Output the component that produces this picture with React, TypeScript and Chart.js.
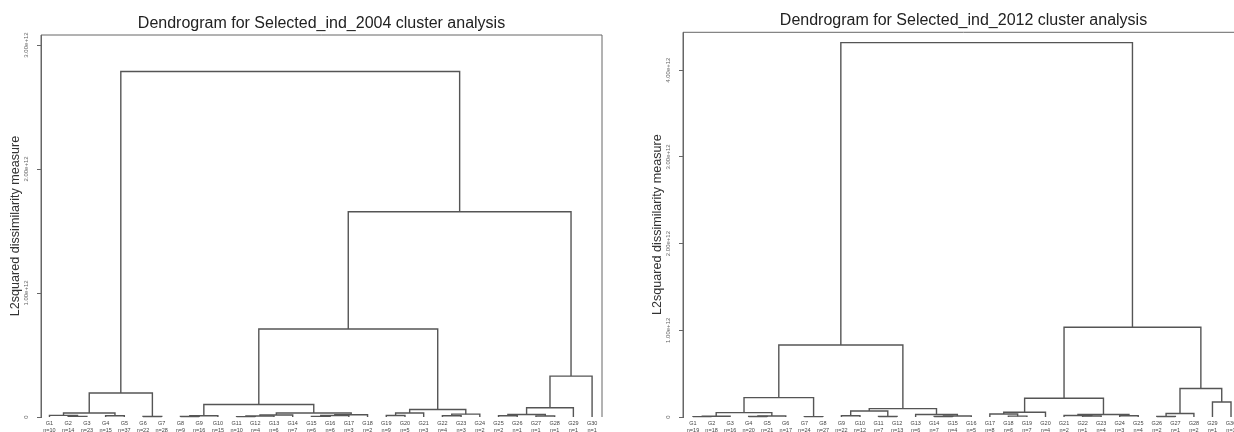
import React, { useEffect, useRef } from 'react';
import { Chart, registerables } from 'chart.js';

Chart.register(...registerables);

const FONT = "'Liberation Sans', Arial, sans-serif";

// ---------- 2004 ----------
const leaves2004 = ['G1','G2','G3','G4','G5','G6','G7','G8','G9','G10','G11','G12','G13','G14','G15','G16','G17','G18','G19','G20','G21','G22','G23','G24','G25','G26','G27','G28','G29','G30'];
const counts2004 = [10,14,23,15,37,22,28,9,16,15,10,4,6,7,6,6,3,2,9,5,3,4,3,2,2,1,1,1,1,1];
// merge table: negative = leaf (1-based), positive = earlier merge (1-based)
const mergeLeft2004  = [-2, -1, -4, 2, -6, 4, -8, 7, -11, 9, 10, -15, 12, 13, 11, 8, -19, 17, -22, 19, 18, 16, -25, -27, 23, 25, 26, 22, 6];
const mergeRight2004 = [-3, 1, -5, 3, -7, 5, -9, -10, -12, -13, -14, -16, -17, -18, 14, 15, -20, -21, -23, -24, 20, 21, -26, -28, 24, -29, -30, 27, 28];
const mergeHeight2004 = [0.005e12, 0.013e12, 0.010e12, 0.032e12, 0.004e12, 0.194e12, 0.004e12, 0.010e12, 0.003e12, 0.008e12, 0.016e12, 0.005e12, 0.012e12, 0.018e12, 0.032e12, 0.101e12, 0.012e12, 0.032e12, 0.010e12, 0.023e12, 0.061e12, 0.710e12, 0.010e12, 0.008e12, 0.020e12, 0.075e12, 0.330e12, 1.656e12, 2.787e12];
const yTicks2004 = [0, 1e12, 2e12, 3e12];

// ---------- 2012 ----------
const leaves2012 = ['G1','G2','G3','G4','G5','G6','G7','G8','G9','G10','G11','G12','G13','G14','G15','G16','G17','G18','G19','G20','G21','G22','G23','G24','G25','G26','G27','G28','G29','G30'];
const counts2012 = [19,18,16,20,21,17,24,27,22,12,7,13,6,7,4,5,8,6,7,4,2,1,4,3,4,2,1,2,1,1];
const mergeLeft2012  = [-1, 1, -4, 3, 2, -7, 5, -9, -11, 8, -14, 11, -13, 10, 7, -18, -17, 17, -22, -21, -24, 20, 18, -26, 24, -29, 25, 23, 15];
const mergeRight2012 = [-2, -3, -5, -6, 4, -8, 6, -10, -12, 9, -15, -16, 12, 13, 14, -19, 16, -20, -23, 19, -25, 21, 22, -27, -28, -30, 26, 27, 28];
const mergeHeight2012 = [0.004e12, 0.008e12, 0.006e12, 0.012e12, 0.050e12, 0.004e12, 0.224e12, 0.015e12, 0.005e12, 0.069e12, 0.005e12, 0.012e12, 0.028e12, 0.097e12, 0.830e12, 0.010e12, 0.035e12, 0.055e12, 0.012e12, 0.018e12, 0.015e12, 0.028e12, 0.216e12, 0.005e12, 0.040e12, 0.173e12, 0.328e12, 1.035e12, 4.318e12];
const yTicks2012 = [0, 1e12, 2e12, 3e12, 4e12];

type Pt = { x: number; y: number };

function buildLinks(a: number[], b: number[], h: number[]): Pt[][] {
  const pos: number[] = [];
  const node = (id: number): Pt => (id < 0 ? { x: -id, y: 0 } : { x: pos[id - 1], y: h[id - 1] });
  const out: Pt[][] = [];
  for (let i = 0; i < h.length; i++) {
    const l = node(a[i]);
    const r = node(b[i]);
    pos[i] = (l.x + r.x) / 2;
    out.push([
      { x: l.x, y: l.y },
      { x: l.x, y: h[i] },
      { x: r.x, y: h[i] },
      { x: r.x, y: r.y },
    ]);
  }
  return out;
}

const fmtTick = (v: number) => (v === 0 ? '0' : (v / 1e12).toFixed(2) + 'e+12');

const framePlugin = {
  id: 'frame',
  afterDatasetsDraw(chart: any) {
    const { ctx, chartArea } = chart;
    const { left, top, right, bottom } = chartArea;
    ctx.save();
    ctx.strokeStyle = '#666';
    ctx.lineWidth = 1;
    ctx.beginPath();
    ctx.moveTo(left, bottom);
    ctx.lineTo(left, top);
    ctx.lineTo(right, top);
    ctx.lineTo(right, bottom);
    ctx.stroke();
    ctx.restore();
  },
};

interface DendroProps {
  title: string;
  leaves: string[];
  counts: number[];
  ml: number[];
  mr: number[];
  mh: number[];
  yTicks: number[];
  xMin: number;
  xMax: number;
  yMax: number;
  titleTop: number;
  titleBottom: number;
  left: number;
}

function Dendro(p: DendroProps) {
  const ref = useRef<HTMLCanvasElement | null>(null);
  useEffect(() => {
    if (!ref.current) return;
    const links = buildLinks(p.ml, p.mr, p.mh);
    const positions = p.leaves.map((_, i) => i + 1);
    const chart = new Chart(ref.current, {
      type: 'scatter',
      data: {
        datasets: links.map((d) => ({
          data: d,
          showLine: true,
          borderColor: '#555',
          borderWidth: 1.4,
          pointRadius: 0,
          pointHoverRadius: 0,
          tension: 0,
          clip: false as any,
        })),
      },
      options: {
        animation: false,
        responsive: false,
        events: [],
        layout: { padding: { left: 0, right: 15, top: 0, bottom: 0 } },
        plugins: {
          legend: { display: false },
          tooltip: { enabled: false },
          title: {
            display: true,
            text: p.title,
            fullSize: false,
            color: '#222',
            font: { family: FONT, size: 16, weight: 'normal' },
            padding: { top: p.titleTop, bottom: p.titleBottom },
          },
        },
        scales: {
          x: {
            type: 'linear',
            min: p.xMin,
            max: p.xMax,
            afterBuildTicks: (s: any) => {
              s.ticks = positions.map((v) => ({ value: v }));
            },
            afterFit: (s: any) => {
              s.height = 15;
            },
            grid: { display: false },
            border: { display: false },
            ticks: {
              autoSkip: false,
              minRotation: 0,
              maxRotation: 0,
              padding: -5,
              color: '#444',
              font: { family: FONT, size: 5.5, lineHeight: 1.3 },
              callback: (v: any) => {
                const i = Math.round(Number(v)) - 1;
                return [p.leaves[i], 'n=' + p.counts[i]];
              },
            },
          },
          y: {
            type: 'linear',
            min: 0,
            max: p.yMax,
            afterBuildTicks: (s: any) => {
              s.ticks = p.yTicks.map((v) => ({ value: v }));
            },
            afterFit: (s: any) => {
              s.width = 41;
            },
            grid: { display: true, drawOnChartArea: false, drawTicks: true, tickLength: 4, color: '#666' },
            border: { display: true, color: '#666', width: 1 },
            ticks: {
              minRotation: 90,
              maxRotation: 90,
              crossAlign: 'center',
              padding: -2.3,
              color: '#666',
              font: { family: FONT, size: 6 },
              callback: (v: any) => fmtTick(Number(v)),
            },
            title: {
              display: true,
              text: 'L2squared dissimilarity measure',
              color: '#333',
              font: { family: FONT, size: 12.6 },
              padding: { top: 8.4, bottom: 0 },
            },
          },
        },
      } as any,
      plugins: [framePlugin],
    });
    return () => chart.destroy();
  }, []);
  return (
    <canvas
      ref={ref}
      width={617}
      height={432}
      style={{ position: 'absolute', left: p.left, top: 0, width: 617, height: 432 }}
    />
  );
}

export default function App() {
  useEffect(() => {
    document.body.style.margin = '0';
    document.body.style.overflow = 'hidden';
    document.documentElement.style.overflow = 'hidden';
  }, []);
  return (
    <div style={{ position: 'relative', width: 1234, height: 432, overflow: 'hidden', background: '#fff' }}>
      <Dendro
        title="Dendrogram for Selected_ind_2004 cluster analysis"
        leaves={leaves2004}
        counts={counts2004}
        ml={mergeLeft2004}
        mr={mergeRight2004}
        mh={mergeHeight2004}
        yTicks={yTicks2004}
        xMin={0.547}
        xMax={30.53}
        yMax={3.081e12}
        titleTop={13.9}
        titleBottom={1.9}
        left={0}
      />
      <Dendro
        title="Dendrogram for Selected_ind_2012 cluster analysis"
        leaves={leaves2012}
        counts={counts2012}
        ml={mergeLeft2012}
        mr={mergeRight2012}
        mh={mergeHeight2012}
        yTicks={yTicks2012}
        xMin={0.461}
        xMax={30.7}
        yMax={4.437e12}
        titleTop={11.4}
        titleBottom={1.7}
        left={642}
      />
    </div>
  );
}
